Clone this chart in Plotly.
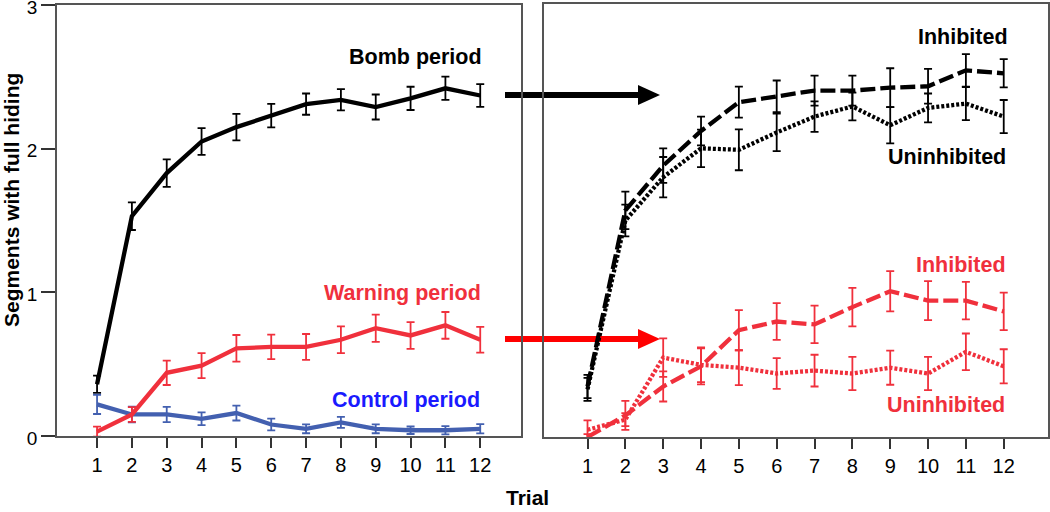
import plotly.graph_objects as go

# ---- data ----
trials = list(range(1, 13))

# left panel: all participants
bomb_mean = [0.36, 1.53, 1.83, 2.05, 2.15, 2.23, 2.31, 2.34, 2.29, 2.35, 2.42, 2.37]
bomb_err = [0.06, 0.096, 0.096, 0.093, 0.092, 0.082, 0.074, 0.074, 0.087, 0.081, 0.081, 0.079]
warn_mean = [0.03, 0.15, 0.44, 0.49, 0.61, 0.62, 0.62, 0.67, 0.75, 0.70, 0.77, 0.67]
warn_err = [0.035, 0.051, 0.085, 0.087, 0.093, 0.085, 0.09, 0.093, 0.095, 0.093, 0.093, 0.089]
ctrl_mean = [0.22, 0.15, 0.15, 0.12, 0.16, 0.08, 0.05, 0.095, 0.05, 0.04, 0.04, 0.05]
ctrl_err = [0.067, 0.055, 0.053, 0.044, 0.052, 0.041, 0.031, 0.038, 0.031, 0.026, 0.029, 0.032]

# right panel: inhibited vs uninhibited
bomb_inh = [0.35, 1.57, 1.88, 2.12, 2.32, 2.36, 2.40, 2.40, 2.42, 2.43, 2.54, 2.52]
bomb_inh_err = [0.08, 0.13, 0.12, 0.10, 0.107, 0.11, 0.104, 0.104, 0.135, 0.12, 0.113, 0.098]
bomb_uninh = [0.33, 1.50, 1.80, 2.00, 1.99, 2.11, 2.22, 2.29, 2.16, 2.28, 2.31, 2.22]
bomb_uninh_err = [0.08, 0.11, 0.14, 0.13, 0.142, 0.13, 0.106, 0.096, 0.125, 0.10, 0.115, 0.115]
warn_inh = [0.0, 0.15, 0.35, 0.49, 0.74, 0.80, 0.78, 0.90, 1.01, 0.945, 0.945, 0.87]
warn_inh_err = [0.02, 0.10, 0.104, 0.125, 0.139, 0.127, 0.13, 0.133, 0.139, 0.135, 0.13, 0.13]
warn_uninh = [0.05, 0.12, 0.55, 0.50, 0.48, 0.44, 0.46, 0.44, 0.48, 0.44, 0.59, 0.49]
warn_uninh_err = [0.065, 0.045, 0.133, 0.12, 0.121, 0.107, 0.11, 0.115, 0.118, 0.115, 0.127, 0.118]

BLACK = "#000000"
RED = "#f0303c"
BLUE = "#4360b0"
FONT = "Liberation Sans, Arial, sans-serif"
W, H = 1050, 512


def px(x):
    return x / W


def py(y):
    return 1 - y / H


def series(x, y, err, color, dash, xa, ya):
    return go.Scatter(
        x=x, y=y, mode="lines",
        line=dict(color=color, width=4.3, dash=dash),
        error_y=dict(type="data", array=err, color=color, thickness=1.8, width=4),
        xaxis=xa, yaxis=ya, showlegend=False, hoverinfo="skip",
    )


fig = go.Figure()
fig.add_trace(series(trials, bomb_mean, bomb_err, BLACK, "solid", "x", "y"))
fig.add_trace(series(trials, ctrl_mean, ctrl_err, BLUE, "solid", "x", "y"))
fig.add_trace(series(trials, warn_mean, warn_err, RED, "solid", "x", "y"))

fig.add_trace(series(trials, warn_uninh, warn_uninh_err, RED, "3px,2px", "x2", "y2"))
fig.add_trace(series(trials, warn_inh, warn_inh_err, RED, "15px,5px", "x2", "y2"))
fig.add_trace(series(trials, bomb_uninh, bomb_uninh_err, BLACK, "3px,2px", "x2", "y2"))
fig.add_trace(series(trials, bomb_inh, bomb_inh_err, BLACK, "15px,5px", "x2", "y2"))

axis_common = dict(
    showline=True, mirror=True, linecolor="#555555", linewidth=1.5,
    showgrid=False, zeroline=False, automargin=False,
    tickfont=dict(family=FONT, size=20, color="black"),
)
xaxis_common = dict(
    axis_common, range=[-0.15, 13.17], tickvals=trials,
    ticks="outside", ticklen=10, tickwidth=1.5, tickcolor="#333333",
)

fig.update_layout(
    width=W, height=H,
    margin=dict(l=0, r=0, t=0, b=0, pad=0),
    paper_bgcolor="white", plot_bgcolor="white",
    font=dict(family=FONT, color="black"),
    xaxis=dict(xaxis_common, domain=[px(57), px(521)], anchor="y"),
    yaxis=dict(axis_common, domain=[py(436), py(5)], range=[0, 3],
               tickvals=[0, 1, 2, 3], ticks="outside", ticklen=14,
               tickwidth=1.5, tickcolor="#333333", anchor="x",
               tickfont=dict(family=FONT, size=19, color="black"),
               ticklabelshift=2, ticklabeloverflow="allow"),
    xaxis2=dict(xaxis_common, domain=[px(544), px(1048)], anchor="y2"),
    yaxis2=dict(axis_common, domain=[py(437), py(4)], range=[0, 3],
                showticklabels=False, ticks="", anchor="x2"),
)

# arrows linking the panels (drawn below the traces)
for yc, col in [(95, BLACK), (339, "#ff0000")]:
    fig.add_shape(type="line", xref="paper", yref="paper", layer="below",
                  x0=px(505), x1=px(640), y0=py(yc), y1=py(yc),
                  line=dict(color=col, width=6))
    fig.add_shape(type="path", xref="paper", yref="paper", layer="below",
                  path=f"M {px(638)},{py(yc - 10)} L {px(660)},{py(yc)} L {px(638)},{py(yc + 10)} Z",
                  fillcolor=col, line=dict(color=col, width=0))

labels = [
    ("Bomb period", 484, 57, BLACK),
    ("Warning period", 483, 293, RED),
    ("Control period", 482, 400, "#1a1aff"),
    ("Inhibited", 1010, 37, BLACK),
    ("Uninhibited", 1008, 157, BLACK),
    ("Inhibited", 1008, 265, RED),
    ("Uninhibited", 1007, 405, RED),
]
for text, xr, yc, col in labels:
    fig.add_annotation(text=f"<b>{text}</b>", xref="paper", yref="paper",
                       x=px(xr), y=py(yc), xanchor="right", yanchor="middle",
                       showarrow=False, font=dict(family=FONT, size=21.5, color=col))

fig.add_annotation(text="<b>Segments with full hiding</b>", xref="paper", yref="paper",
                   x=px(11), y=py(200), textangle=-90, showarrow=False,
                   xanchor="center", yanchor="middle",
                   font=dict(family=FONT, size=21, color="black"))
fig.add_annotation(text="<b>Trial</b>", xref="paper", yref="paper",
                   x=px(527), y=py(497), showarrow=False,
                   xanchor="center", yanchor="middle",
                   font=dict(family=FONT, size=21, color="black"))

# the page's default body margin would offset the figure by 8px
fig.write_html("out.html", config={"displayModeBar": False},
               post_script="document.body.style.margin = '0px';")
